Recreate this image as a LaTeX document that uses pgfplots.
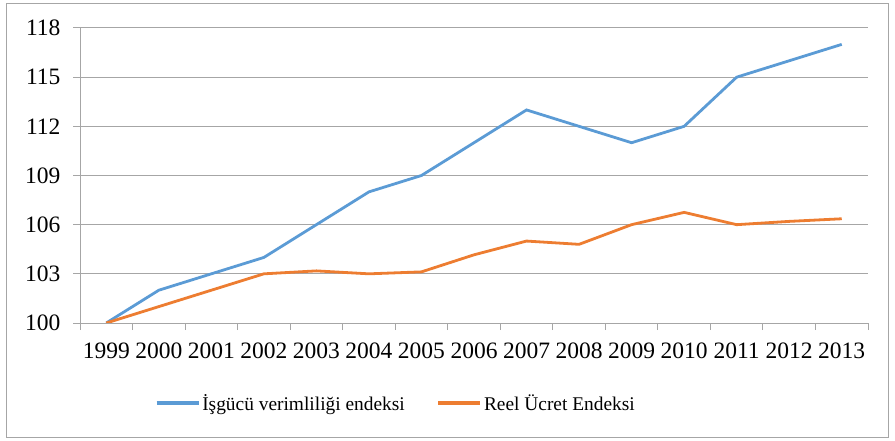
\documentclass[border=0pt]{standalone}
\usepackage{pgfplots}
\pgfplotsset{compat=1.18}
\usepackage{fontspec}
\setmainfont{Liberation Serif}
\definecolor{sblue}{HTML}{5B9BD5}
\definecolor{sorange}{HTML}{ED7D31}
\definecolor{gridgray}{HTML}{A6A6A6}
\begin{document}
\begin{tikzpicture}
\path[use as bounding box] (0,0) rectangle (895bp,441bp);
\draw[gridgray, line width=1bp] (6bp,3bp) rectangle (888bp,437bp);
\begin{axis}[
  at={(80bp,118bp)}, anchor=south west,
  scale only axis, width=788bp, height=295bp,
  xmin=-0.5, xmax=14.5, ymin=100, ymax=118,
  axis x line=bottom, axis y line=left,
  axis line style={gridgray, line width=1bp, -},
  xtick={-0.5,0.5,...,14.5}, xticklabels={},
  extra x ticks={0,1,...,14},
  extra x tick labels={1999,2000,2001,2002,2003,2004,2005,2006,2007,2008,2009,2010,2011,2012,2013},
  extra x tick style={major tick length=0pt, grid=none, xticklabel style={yshift=-16bp}},
  ytick={100,103,...,118},
  ymajorgrids, grid style={gridgray, line width=1bp},
  tick align=outside, major tick length=7bp,
  tick style={gridgray, line width=1bp},
  /pgf/number format/assume math mode=true,
  tick label style={font=\fontsize{23.5bp}{27bp}\selectfont, text=black},
  yticklabel style={xshift=-9bp},
  legend columns=2,
  legend style={draw=none, at={(0.095,-0.271)}, anchor=west, inner sep=0pt,
    font=\fontsize{19.4bp}{23bp}\selectfont,
    /tikz/every even column/.append style={column sep=30bp}},
  legend image code/.code={\draw[#1] (0bp,0bp) -- (42bp,0bp);},
  legend image post style={line width=3.2bp},
]
\addplot[sblue, line width=2.8bp] coordinates {
(0,100) (1,102) (2,103) (3,104) (4,106) (5,108) (6,109) (7,111) (8,113) (9,112) (10,111) (11,112) (12,115) (13,116) (14,117)};
\addlegendentry{İşgücü verimliliği endeksi}
\addplot[sorange, line width=2.8bp] coordinates {
(0,100) (1,101) (2,102) (3,103) (4,103.18) (5,103.0) (6,103.12) (7,104.16) (8,105.0) (9,104.8) (10,106.0) (11,106.75) (12,106.0) (13,106.2) (14,106.36)};
\addlegendentry{Reel Ücret Endeksi}
\end{axis}
\end{tikzpicture}
\end{document}
